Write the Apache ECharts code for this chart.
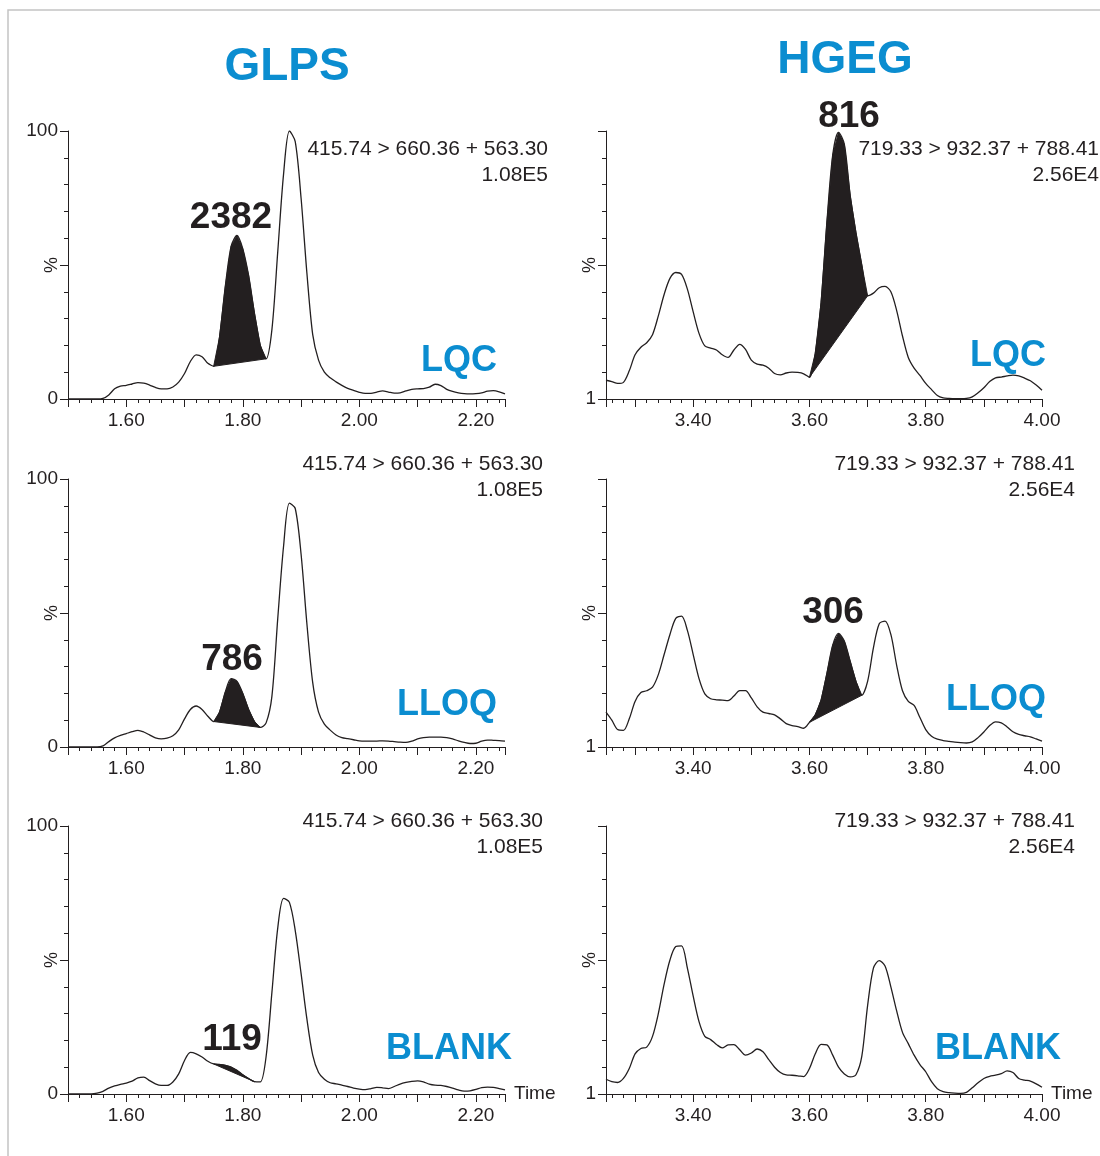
<!DOCTYPE html>
<html>
<head>
<meta charset="utf-8">
<script src="https://cdn.jsdelivr.net/npm/echarts@6.0.0/dist/echarts.min.js"></script>
<style>
html,body{margin:0;padding:0;background:#ffffff;}
#chart{width:1100px;height:1156px;}
</style>
</head>
<body>
<div id="chart"></div>
<script>
// ---------- DATA ----------
const timeGLPS = [1.50,1.51,1.52,1.53,1.54,1.55,1.56,1.57,1.58,1.59,1.60,1.61,1.62,1.63,1.64,1.65,1.66,1.67,1.68,1.69,
  1.70,1.71,1.72,1.73,1.74,1.75,1.76,1.77,1.78,1.79,1.80,1.81,1.82,1.83,1.84,1.85,1.86,1.87,1.88,1.89,
  1.90,1.91,1.92,1.93,1.94,1.95,1.96,1.97,1.98,1.99,2.00,2.01,2.02,2.03,2.04,2.05,2.06,2.07,2.08,2.09,
  2.10,2.11,2.12,2.13,2.14,2.15,2.16,2.17,2.18,2.19,2.20,2.21,2.22,2.23,2.24,2.25];
const timeHGEG = [3.25,3.26,3.27,3.28,3.29,3.30,3.31,3.32,3.33,3.34,3.35,3.36,3.37,3.38,3.39,3.40,3.41,3.42,3.43,3.44,
  3.45,3.46,3.47,3.48,3.49,3.50,3.51,3.52,3.53,3.54,3.55,3.56,3.57,3.58,3.59,3.60,3.61,3.62,3.63,3.64,
  3.65,3.66,3.67,3.68,3.69,3.70,3.71,3.72,3.73,3.74,3.75,3.76,3.77,3.78,3.79,3.80,3.81,3.82,3.83,3.84,
  3.85,3.86,3.87,3.88,3.89,3.90,3.91,3.92,3.93,3.94,3.95,3.96,3.97,3.98,3.99,4.00];

const glpsLQC = [0,0,0,0,0,0,0.2,1.5,3.8,4.8,5.1,5.6,6.1,5.9,5.2,4.3,3.8,3.8,4.5,6.3,
  9.5,14,16.5,15.8,13.3,12.2,23,42,57,61,56,46,32,20,15,26,55,84,100,96,
  75,47,24,14.5,10,7.9,6.4,5.1,4,3.2,2.5,2.1,2.1,2.6,3.0,2.6,2.2,2.3,3.0,3.6,
  3.8,3.9,4.4,5.5,5.0,3.6,2.8,2.3,2.0,1.9,2.0,2.3,2.9,3.1,2.7,1.9];
const glpsLLOQ = [0,0,0,0,0,0,0.4,2,3.4,4.3,5,5.7,6.2,5.6,4.5,3.4,3.0,3.3,4.2,6.4,
  10.5,14,15.3,14,11.5,9.5,13,20.5,25.5,24.5,20,14,9.5,7.3,9,19,48,75,91,89,
  72,46,24,13,8.5,6.3,4.5,3.5,3.1,2.7,2.3,2.2,2.2,2.2,2.3,2.2,2.0,1.8,1.7,2.2,
  3.0,3.5,3.7,3.7,3.7,3.5,3.0,2.3,1.7,1.3,1.4,2.2,2.6,2.5,2.4,2.2];
const glpsBLANK = [0,0,0,0,0,0.3,1,2.2,3,3.6,4.1,4.8,6,6.3,5,3.8,3.2,3.2,4.5,7.5,
  12.5,15.5,15,13.8,12.2,11.2,11,10.7,10,8.8,7.2,5.8,4.6,4.5,14,38,62,73,71.5,61,
  45,28,14.5,8,5.5,4.2,3.8,3.3,2.8,2.2,1.8,1.6,2,2.5,2.3,2,2.8,3.7,4.3,4.7,
  4.9,4.5,3.7,3.3,3.2,2.8,2.2,1.5,1.1,1.2,1.7,2.4,2.6,2.5,2,1.5];

const hgegLQC = [7.0,6.5,5.8,6.2,10.5,16.5,19.3,21,24,31,39,45,47.2,46.5,41,32.5,24.5,19.8,19,18.3,
  16.5,15.5,18.3,20.4,18.5,14.5,13,12.6,11.5,9.5,9,9.7,10,9.9,9.4,8.1,17,36,66,91,
  99.5,95,76,62,50,38.5,39.5,41.5,42,40,33,23.5,15.5,11.5,8.8,5.8,3.5,1.3,0.4,0.2,
  0.1,0.1,0.2,0.8,2.3,4.2,6.5,7.9,8.2,8.6,8.9,8.6,7.8,6.8,5.2,3.3];
const hgegLLOQ = [13,10,6.5,6.2,10.5,17,20.3,21,22.3,27,34.5,42,48,48.8,43.5,34.5,25.5,19.8,18,17.6,
  17.5,17.3,19,21,21,18.3,15,13,12.5,12,10.5,8.7,8,7.6,7,9.2,12,17.5,27.5,38,
  42.4,39.5,32,24.5,19.3,24.5,37,46,47,42,30.5,21,17,15.5,11,6.5,4,2.9,2.4,2.1,
  1.8,1.6,1.5,1.9,3.5,5.6,8,9.4,9,7.5,5.7,4.7,4.2,3.8,3,2.2];
const hgegBLANK = [5.5,4.6,4.3,5.8,9.5,15,17,17.5,21.5,30,41,50,55,55.3,47,36.5,27,21.5,20.3,18.5,
  17.2,18.3,18.4,16.5,14.5,15.3,16.8,15.8,12.8,10,8,7.1,7,6.8,6.5,9.5,15,18.5,18.3,14.5,
  10,7.5,6.4,7.2,14,33,47,49.8,47.8,40,31,23,18.8,14.5,11,8.3,4.6,2,0.9,0.5,
  0.3,0.2,0.6,2.3,4.2,5.8,6.6,7,7.6,8.6,8,5.8,5.2,4.8,3.8,2.5];

// integrated peak windows [start time, end time]
const peakGLPS_LQC = [1.75, 1.84];
const peakGLPS_LLOQ = [1.75, 1.83];
const peakGLPS_BLANK = [1.75, 1.82];
const peakHGEG_LQC = [3.60, 3.70];
const peakHGEG_LLOQ = [3.60, 3.69];

const areaGLPS = ['2382', '786', '119'];
const areaHGEG = ['816', '306', ''];
const sampleLabels = ['LQC', 'LLOQ', 'BLANK'];
const compoundTitles = ['GLPS', 'HGEG'];
const transitionGLPS = '415.74 > 660.36 + 563.30';
const intensityGLPS = '1.08E5';
const transitionHGEG = '719.33 > 932.37 + 788.41';
const intensityHGEG = '2.56E4';
const timeRangeGLPS = [1.50, 2.25];
const timeRangeHGEG = [3.25, 4.00];

// ---------- LAYOUT / STYLE ----------
const FONT = '"Liberation Sans", Arial, Helvetica, sans-serif';
const INK = '#231f20';
const BLUE = '#0b8dd0';
const colLeft = [68, 606];
const colWidth = [437, 436];
const rowTop = [131, 479, 826];
const rowHeight = 268;

const panels = [
  {col:0,row:0,time:timeGLPS,vals:glpsLQC,peak:peakGLPS_LQC,range:timeRangeGLPS},
  {col:0,row:1,time:timeGLPS,vals:glpsLLOQ,peak:peakGLPS_LLOQ,range:timeRangeGLPS},
  {col:0,row:2,time:timeGLPS,vals:glpsBLANK,peak:peakGLPS_BLANK,range:timeRangeGLPS},
  {col:1,row:0,time:timeHGEG,vals:hgegLQC,peak:peakHGEG_LQC,range:timeRangeHGEG},
  {col:1,row:1,time:timeHGEG,vals:hgegLLOQ,peak:peakHGEG_LLOQ,range:timeRangeHGEG},
  {col:1,row:2,time:timeHGEG,vals:hgegBLANK,peak:null,range:timeRangeHGEG}
];

const grids = [], xAxes = [], yAxes = [], series = [];
panels.forEach((p, i) => {
  grids.push({left: colLeft[p.col], top: rowTop[p.row], width: colWidth[p.col], height: rowHeight,
    containLabel: false, outerBoundsMode: 'none'});
  xAxes.push({
    gridIndex: i, type: 'value', min: p.range[0], max: p.range[1], splitNumber: 7,
    axisLine: {show: true, onZero: false, lineStyle: {color: INK, width: 1}},
    axisTick: {show: true, length: 8, lineStyle: {color: INK, width: 1}},
    minorTick: {show: true, splitNumber: 5, length: 4, lineStyle: {color: INK, width: 1}},
    splitLine: {show: false}, minorSplitLine: {show: false},
    axisLabel: {
      color: INK, fontSize: 19, fontFamily: FONT, margin: 12, hideOverlap: false,
      showMinLabel: true, showMaxLabel: true,
      formatter: v => { const r = Math.round(v * 100); return (r % 20 === 0) ? v.toFixed(2) : ''; }
    },
    name: p.row === 2 ? 'Time' : '', nameLocation: 'end', nameGap: 9, nameMoveOverlap: false,
    nameTextStyle: {color: INK, fontSize: 19, fontFamily: FONT, verticalAlign: 'middle', align: 'left'}
  });
  yAxes.push({
    gridIndex: i, type: 'value', min: 0, max: 100, interval: 50,
    axisLine: {show: true, onZero: false, lineStyle: {color: INK, width: 1}},
    axisTick: {show: true, length: 8, lineStyle: {color: INK, width: 1}},
    minorTick: {show: true, splitNumber: 5, length: 4, lineStyle: {color: INK, width: 1}},
    splitLine: {show: false}, minorSplitLine: {show: false},
    axisLabel: {
      color: INK, fontSize: 19, fontFamily: FONT, margin: 10,
      formatter: p.col === 0 ? (v => v === 50 ? '' : String(v)) : (v => v === 0 ? '1' : '')
    },
    name: '%', nameLocation: 'middle', nameRotate: 90, nameGap: 7, nameMoveOverlap: false,
    nameTextStyle: {color: INK, fontSize: 18, fontFamily: FONT}
  });
  const pts = p.time.map((t, k) => [t, p.vals[k]]);
  if (p.peak) {
    series.push({
      type: 'custom', xAxisIndex: i, yAxisIndex: i, silent: true, z: 2,
      data: [p.peak],
      renderItem: (params, api) => {
        const s = api.value(0), e = api.value(1);
        const poly = [];
        p.time.forEach((t, k) => {
          if (t >= s - 1e-9 && t <= e + 1e-9) poly.push(api.coord([t, p.vals[k]]));
        });
        return {type: 'polygon', shape: {points: poly},
          style: {fill: INK, stroke: INK, lineWidth: 1}};
      }
    });
  }
  series.push({
    type: 'line', xAxisIndex: i, yAxisIndex: i, data: pts, showSymbol: false, symbol: 'none',
    smooth: 0.3, silent: true, z: 3, animation: false,
    lineStyle: {color: INK, width: 1.3}
  });
});

// ---------- TEXT ----------
function txt(x, y, text, opts) {
  return Object.assign({type: 'text', x: x, y: y, silent: true, z: 10,
    style: Object.assign({text: text, fill: INK, font: '21px ' + FONT, align: 'right', verticalAlign: 'middle',
      textAlign: 'right', textVerticalAlign: 'middle'}, opts || {})});
}
const graphics = [
  {type: 'rect', silent: true, z: 0, shape: {x: 8, y: 10, width: 1130, height: 1190},
   style: {fill: 'none', stroke: '#c4c4c4', lineWidth: 1.5}},
  txt(287, 67, compoundTitles[0], {fill: BLUE, font: 'bold 46px ' + FONT, align: 'center', textAlign: 'center'}),
  txt(845, 60, compoundTitles[1], {fill: BLUE, font: 'bold 46px ' + FONT, align: 'center', textAlign: 'center'})
];
const transPos = [
  [[548,149],[543,464],[543,821]],
  [[1099,149],[1075,464],[1075,821]]
];
const areaPos = [
  [[231,218],[232,660],[232,1040]],
  [[849,117],[833,613],null]
];
const samplePos = [
  [[497,361],[497,705],[512,1049]],
  [[1046,356],[1046,700],[1061,1049]]
];
for (let c = 0; c < 2; c++) {
  for (let r = 0; r < 3; r++) {
    const tp = transPos[c][r];
    graphics.push(txt(tp[0], tp[1], c === 0 ? transitionGLPS : transitionHGEG));
    graphics.push(txt(tp[0], tp[1] + 26, c === 0 ? intensityGLPS : intensityHGEG));
    const a = (c === 0 ? areaGLPS : areaHGEG)[r];
    if (a && areaPos[c][r]) {
      graphics.push(txt(areaPos[c][r][0], areaPos[c][r][1], a,
        {font: 'bold 37px ' + FONT, align: 'center', textAlign: 'center'}));
    }
    const sp = samplePos[c][r];
    graphics.push(txt(sp[0], sp[1], sampleLabels[r], {fill: BLUE, font: 'bold 36px ' + FONT}));
  }
}

const chart = echarts.init(document.getElementById('chart'), null, {renderer: 'canvas'});
chart.setOption({
  animation: false,
  backgroundColor: '#ffffff',
  textStyle: {fontFamily: FONT},
  grid: grids,
  xAxis: xAxes,
  yAxis: yAxes,
  series: series,
  graphic: graphics
});
</script>
</body>
</html>
